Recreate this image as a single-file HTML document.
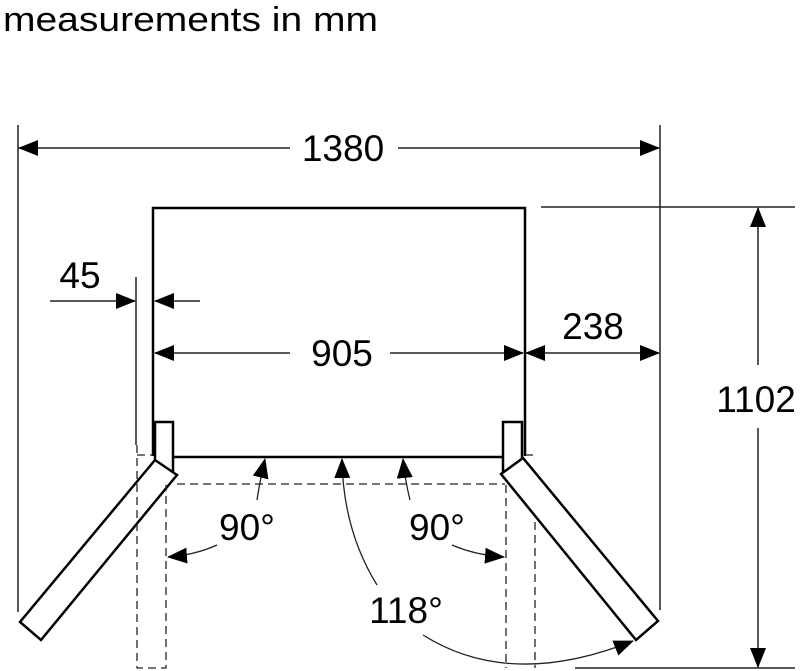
<!DOCTYPE html>
<html><head><style>body{margin:0;background:#fff}svg{display:block}</style></head><body>
<svg width="800" height="671" viewBox="0 0 800 671" xmlns="http://www.w3.org/2000/svg" font-family="Liberation Sans, Arial, sans-serif" fill="#000">
<defs>
<marker id="a" markerWidth="20" markerHeight="16" refX="19" refY="8" orient="auto" markerUnits="userSpaceOnUse"><path d="M0,0 L20,8 L0,16 Z" fill="#000"/></marker>
</defs>
<text x="3" y="31" font-size="34" textLength="375" lengthAdjust="spacingAndGlyphs">measurements in mm</text>
<g stroke="#222" stroke-width="1.5" fill="none">
<line x1="18" y1="125" x2="18" y2="612"/>
<line x1="660" y1="125" x2="660" y2="610"/>
<line x1="290" y1="148" x2="19" y2="148" marker-end="url(#a)"/>
<line x1="398" y1="148" x2="659" y2="148" marker-end="url(#a)"/>
<line x1="541" y1="207" x2="795" y2="207"/>
<line x1="758" y1="365" x2="758" y2="208" marker-end="url(#a)"/>
<line x1="758" y1="428" x2="758" y2="667" marker-end="url(#a)"/>
<line x1="575" y1="668" x2="795" y2="668"/>
<line x1="136" y1="277" x2="136" y2="445"/>
<line x1="50" y1="301" x2="135" y2="301" marker-end="url(#a)"/>
<line x1="200" y1="301" x2="155" y2="301" marker-end="url(#a)"/>
<line x1="290" y1="353" x2="155" y2="353" marker-end="url(#a)"/>
<line x1="390" y1="353" x2="523" y2="353" marker-end="url(#a)"/>
<line x1="545" y1="353" x2="526" y2="353" marker-end="url(#a)"/>
<line x1="545" y1="353" x2="659" y2="353" marker-end="url(#a)"/>
</g>
<g stroke="#000" stroke-width="2.5" fill="#fff">
<path d="M153,456 L153,208 L525,208 L525,456 M173,457 L503,457" fill="none"/>
<rect x="155" y="422" width="18" height="51"/>
<rect x="503" y="422" width="19" height="51"/>
<polygon points="155,460 177,475 41,640 20,622"/>
<polygon points="501,474 523,458 658,621 636,640"/>
</g>
<g stroke="#222" stroke-width="1.3" fill="none" stroke-dasharray="8,5">
<path d="M137,445 L137,668 L166,668 L166,485"/>
<path d="M137,455 L153,455"/>
<line x1="177" y1="484" x2="505" y2="484"/>
<line x1="506" y1="485" x2="506" y2="668"/>
<line x1="535" y1="522" x2="535" y2="668"/>
<line x1="525" y1="455" x2="535" y2="455"/>
</g>
<g stroke="#222" stroke-width="1.3" fill="none">
<path d="M257,500 Q260,480 265,459" marker-end="url(#a)"/>
<path d="M217,545 Q195,555 168,557" marker-end="url(#a)"/>
<path d="M377,585 Q343,530 342,459" marker-end="url(#a)"/>
<path d="M410,500 Q405,480 403,459" marker-end="url(#a)"/>
<path d="M452,545 Q475,555 504,557" marker-end="url(#a)"/>
<path d="M423,635 Q510,690 633,641" marker-end="url(#a)"/>
</g>
<g font-size="37">
<text x="343" y="161" text-anchor="middle">1380</text>
<text x="80" y="288" text-anchor="middle">45</text>
<text x="342" y="366" text-anchor="middle">905</text>
<text x="593" y="339" text-anchor="middle">238</text>
<text x="756" y="412" text-anchor="middle">1102</text>
<text x="247" y="540" text-anchor="middle">90°</text>
<text x="437" y="540" text-anchor="middle">90°</text>
<text x="406" y="623" text-anchor="middle">118°</text>
</g>
</svg>
</body></html>
